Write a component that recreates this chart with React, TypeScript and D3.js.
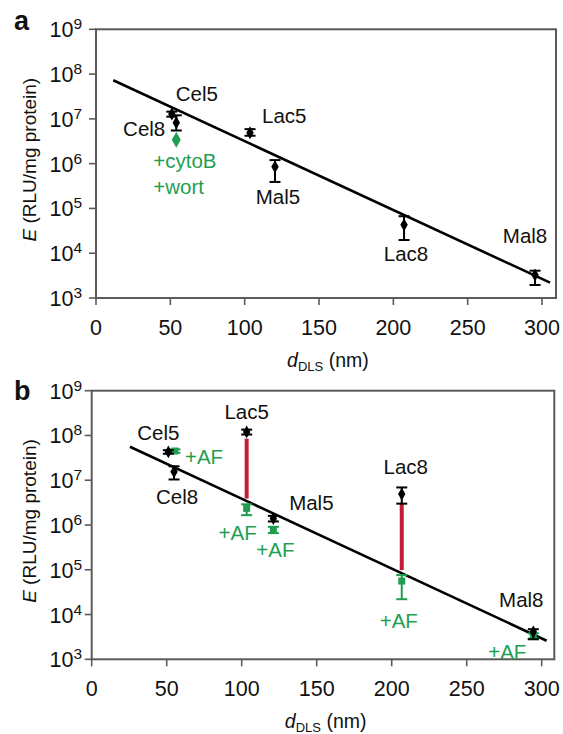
import React from 'react';
import * as d3 from 'd3';

// ---------- Panel a data ----------
const namesA = ['Cel5', 'Cel8', 'Lac5', 'Mal5', 'Lac8', 'Mal8'];
const dA = [51, 54, 103.6, 120.4, 207.2, 295.3];
const eA = [1.28e7, 8.2e6, 4.9e6, 8.5e5, 4.3e4, 3.26e3];
const loA = [1.12e7, 5.5e6, 4.2e6, 3.9e5, 1.97e4, 1.95e3];
const hiA = [1.45e7, 1.2e7, 5.9e6, 1.2e6, 6.7e4, 4.07e3];
const cytoD = [54];
const cytoE = [3.4e6];
const cytoLabels = ['+cytoB', '+wort'];
const fitAD = [11.6, 305.4];
const fitAE = [7.3e7, 2.2e3];

// ---------- Panel b data ----------
const namesB = ['Cel5', 'Cel8', 'Lac5', 'Mal5', 'Lac8', 'Mal8'];
const dB = [51.1, 54.9, 103.3, 121.1, 206.7, 294.4];
const eB = [4.3e7, 1.55e7, 1.2e8, 1.4e6, 4.9e6, 4.1e3];
const loB = [3.9e7, 1.04e7, 1.05e8, 1.2e6, 3.0e6, 2.8e3];
const hiB = [4.7e7, 2.05e7, 1.35e8, 1.6e6, 6.9e6, 4.7e3];
const afLabels = ['+AF', '+AF', '+AF', '+AF', '+AF'];
const afD = [55.5, 103.3, 121.1, 206.7, 294.4];
const afE = [4.5e7, 2.35e6, 7.8e5, 5.6e4, 3.3e3];
const afLo = [4.1e7, 1.66e6, 6.6e5, 2.2e4, 2.9e3];
const afHi = [4.9e7, 2.9e6, 9.1e5, 7.6e4, 3.8e3];
const redD = [103.3, 206.7];
const redTop = [8.5e7, 3.0e6];
const redBottom = [3.9e6, 9.8e4];
const fitBD = [25.5, 303.3];
const fitBE = [5.6e7, 2.6e3];

// ---------- Axes ----------
const xTicks = [0, 50, 100, 150, 200, 250, 300];
const yExps = [3, 4, 5, 6, 7, 8, 9];
const panelLetters = ['a', 'b'];

// ---------- Styles / layout (not data) ----------
const FONT = "'Liberation Sans', Arial, Helvetica, sans-serif";
const GREEN = '#1f9e52';
const RED = '#c31a36';
const AXIS = '#5a5a5a';
const LFS = 20.5;

const labelOffA = [
  { dx: 25, dy: -13, a: 'middle' },
  { dx: -11, dy: 13, a: 'end' },
  { dx: 12, dy: -10, a: 'start' },
  { dx: 3, dy: 37, a: 'middle' },
  { dx: 2, dy: 36, a: 'middle' },
  { dx: -10, dy: -32, a: 'middle' },
];
const labelOffB = [
  { dx: -10, dy: -12, a: 'middle' },
  { dx: 3, dy: 32, a: 'middle' },
  { dx: 0, dy: -13, a: 'middle' },
  { dx: 38, dy: -8, a: 'middle' },
  { dx: 4, dy: -20, a: 'middle' },
  { dx: -12, dy: -25, a: 'middle' },
];
const afOff = [
  { dx: 10, dy: 13, a: 'start' },
  { dx: -9, dy: 32, a: 'middle' },
  { dx: 2, dy: 27, a: 'middle' },
  { dx: -3, dy: 47, a: 'middle' },
  { dx: -26, dy: 23, a: 'middle' },
];

type Geo = { left: number; right: number; top: number; bottom: number; xMax: number };
const geoA: Geo = { left: 96, right: 556, top: 29.3, bottom: 298, xMax: 309.4 };
const geoB: Geo = { left: 91.7, right: 554.3, top: 390.7, bottom: 659.3, xMax: 308.4 };

const diamond = d3.symbol().type(d3.symbolDiamond);

function ErrBar({ x, y1, y2, color }: { x: number; y1: number; y2: number; color: string }) {
  const w = 5.5;
  return (
    <g stroke={color} strokeWidth={2}>
      <line x1={x} x2={x} y1={y1} y2={y2} />
      <line x1={x - w} x2={x + w} y1={y1} y2={y1} />
      <line x1={x - w} x2={x + w} y1={y2} y2={y2} />
    </g>
  );
}

function Frame({ g, x, y, letter, letterY }: { g: Geo; x: any; y: any; letter: string; letterY: number }) {
  const midY = (g.top + g.bottom) / 2;
  return (
    <g fontFamily={FONT}>
      <rect x={g.left} y={g.top} width={g.right - g.left} height={g.bottom - g.top}
        fill="none" stroke={AXIS} strokeWidth={2} />
      {xTicks.map((t) => (
        <g key={'x' + t}>
          <line x1={x(t)} x2={x(t)} y1={g.bottom} y2={g.bottom + 7} stroke={AXIS} strokeWidth={1.6} />
          <text x={x(t)} y={g.bottom + 37} textAnchor="middle" fontSize={21.5} fill="#111">{t}</text>
        </g>
      ))}
      {yExps.map((e) => (
        <g key={'y' + e}>
          <line x1={g.left - 7} x2={g.left} y1={y(Math.pow(10, e))} y2={y(Math.pow(10, e))} stroke={AXIS} strokeWidth={1.6} />
          <text x={82} y={y(Math.pow(10, e)) + 8} textAnchor="end" fontSize={21.5} fill="#111">
            <tspan>10</tspan>
            <tspan dy={-8} fontSize={15.5}>{e}</tspan>
          </text>
        </g>
      ))}
      <text x={x(156)} y={g.bottom + 69} textAnchor="middle" fontSize={19.5} fill="#111">
        <tspan fontStyle="italic">d</tspan>
        <tspan fontSize={13} dy={4}>DLS</tspan>
        <tspan dy={-4}> (nm)</tspan>
      </text>
      <text transform={`translate(36,${midY - 4}) rotate(-90)`} textAnchor="middle" fontSize={19} fill="#111">
        <tspan fontStyle="italic">E</tspan>
        <tspan> (RLU/mg protein)</tspan>
      </text>
      <text x={14} y={letterY} fontSize={27} fontWeight="bold" fill="#111">{letter}</text>
    </g>
  );
}

function PanelA() {
  const g = geoA;
  const x = d3.scaleLinear().domain([0, g.xMax]).range([g.left, g.right]);
  const y = d3.scaleLog().domain([1e3, 1e9]).range([g.bottom, g.top]);
  const line = d3.line<number>().x((_, i) => x(fitAD[i])).y((v) => y(v));
  return (
    <g>
      <Frame g={g} x={x} y={y} letter={panelLetters[0]} letterY={30} />
      <path d={line(fitAE) || ''} stroke="#000" strokeWidth={2.6} fill="none" />
      {namesA.map((n, i) => (
        <g key={n}>
          <ErrBar x={x(dA[i])} y1={y(hiA[i])} y2={y(loA[i])} color="#000" />
          <path d={diamond.size(48)() || ''} transform={`translate(${x(dA[i])},${y(eA[i])})`} fill="#000" />
          <text x={x(dA[i]) + labelOffA[i].dx} y={y(eA[i]) + labelOffA[i].dy}
            textAnchor={labelOffA[i].a as any} fontFamily={FONT} fontSize={LFS} fill="#111">{n}</text>
        </g>
      ))}
      {cytoD.map((d, i) => (
        <g key={'c' + i}>
          <path d={diamond.size(70)() || ''} transform={`translate(${x(d)},${y(cytoE[i])})`} fill={GREEN} />
          {cytoLabels.map((l, j) => (
            <text key={l} x={x(d) - 23} y={y(cytoE[i]) + 28 + j * 26} fontFamily={FONT} fontSize={LFS} fill={GREEN}>{l}</text>
          ))}
        </g>
      ))}
    </g>
  );
}

function PanelB() {
  const g = geoB;
  const x = d3.scaleLinear().domain([0, g.xMax]).range([g.left, g.right]);
  const y = d3.scaleLog().domain([1e3, 1e9]).range([g.bottom, g.top]);
  const line = d3.line<number>().x((_, i) => x(fitBD[i])).y((v) => y(v));
  return (
    <g>
      <Frame g={g} x={x} y={y} letter={panelLetters[1]} letterY={400} />
      {redD.map((d, i) => (
        <line key={'r' + i} x1={x(d)} x2={x(d)} y1={y(redTop[i])} y2={y(redBottom[i])} stroke={RED} strokeWidth={4} />
      ))}
      <path d={line(fitBE) || ''} stroke="#000" strokeWidth={2.6} fill="none" />
      {afD.map((d, i) => (
        <g key={'af' + i}>
          <ErrBar x={x(d)} y1={y(afHi[i])} y2={y(afLo[i])} color={GREEN} />
          <rect x={x(d) - 3.5} y={y(afE[i]) - 3.5} width={7} height={7} fill={GREEN} />
          <text x={x(d) + afOff[i].dx} y={y(afE[i]) + afOff[i].dy} textAnchor={afOff[i].a as any}
            fontFamily={FONT} fontSize={LFS} fill={GREEN}>{afLabels[i]}</text>
        </g>
      ))}
      {namesB.map((n, i) => (
        <g key={n}>
          <ErrBar x={x(dB[i])} y1={y(hiB[i])} y2={y(loB[i])} color="#000" />
          <path d={diamond.size(48)() || ''} transform={`translate(${x(dB[i])},${y(eB[i])})`} fill="#000" />
          <text x={x(dB[i]) + labelOffB[i].dx} y={y(eB[i]) + labelOffB[i].dy}
            textAnchor={labelOffB[i].a as any} fontFamily={FONT} fontSize={LFS} fill="#111">{n}</text>
        </g>
      ))}
    </g>
  );
}

export default function App() {
  return (
    <svg width={563} height={734} style={{ position: 'absolute', left: 0, top: 0, background: '#fff' }}>
      <rect width={563} height={734} fill="#fff" />
      <PanelA />
      <PanelB />
    </svg>
  );
}
